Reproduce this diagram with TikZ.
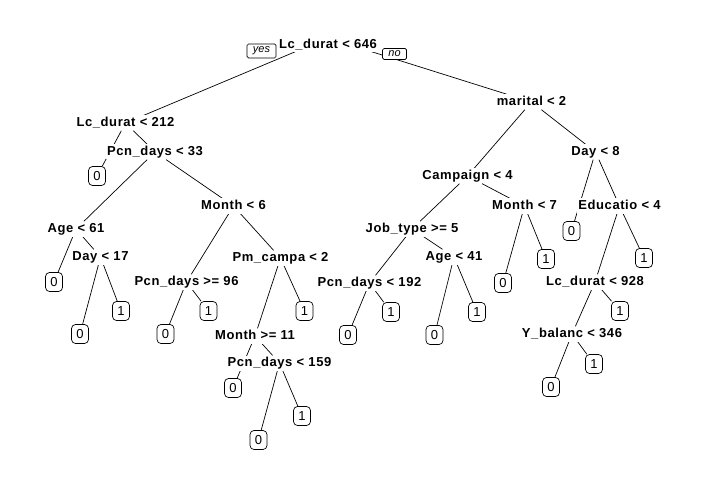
\documentclass[tikz,border=0pt]{standalone}
\usepackage{fontspec}
\setmainfont{Liberation Sans}
\newfontfamily\splitfont[LetterSpace=4.5]{Liberation Sans Bold}
\usetikzlibrary{backgrounds}
\tikzstyle{snode} = [fill=white, inner sep=1.5pt, text height=9.5pt, text depth=2.5pt, font=\splitfont\fontsize{13}{13}\selectfont]
\tikzstyle{lnode} = [draw, fill=white, rounded corners=4pt, minimum width=17pt, minimum height=19pt, inner sep=0pt, line width=0.7pt, font=\fontsize{13}{13}\selectfont]
\tikzstyle{tag} = [draw, fill=white, rounded corners=1.5pt, inner sep=0pt, line width=0.7pt, font=\itshape\fontsize{11}{11}\selectfont]
\tikzstyle{line} = [draw, line width=0.7pt]

\begin{document}
\begin{tikzpicture}[x=1pt, y=-1pt]
			\useasboundingbox (0,0) rectangle (708,486);
			% splits
			\node [snode] (root) at (328, 45) {Lc\_durat < 646};
			\coordinate (rootpt) at (328, 38);
			\node [tag, minimum width=29pt, minimum height=14pt] (yes) at (261.5, 51) {yes};
			\node [tag, minimum width=24pt, minimum height=11pt] (no) at (394.5, 54) {no};
			\node [snode] (dur212) at (125.5, 123) {Lc\_durat < 212};
			\node [snode] (pcn33) at (155, 152) {Pcn\_days < 33};
			\node [snode] (age61) at (76, 229) {Age < 61};
			\node [snode] (day17) at (100.5, 257) {Day < 17};
			\node [snode] (mon6) at (233.5, 206) {Month < 6};
			\node [snode] (pcn96) at (186.5, 282) {Pcn\_days >= 96};
			\node [snode] (pmc2) at (280.5, 258) {Pm\_campa < 2};
			\node [snode] (mon11) at (255, 336) {Month >= 11};
			\node [snode] (pcn159) at (279.5, 363) {Pcn\_days < 159};
			\node [snode] (marital) at (531.5, 102) {marital < 2};
			\node [snode] (camp4) at (467.5, 176) {Campaign < 4};
			\node [snode] (job5) at (412, 229) {Job\_type >= 5};
			\node [snode] (age41) at (454, 257) {Age < 41};
			\node [snode] (pcn192) at (369.5, 283) {Pcn\_days < 192};
			\node [snode] (mon7) at (524.5, 206) {Month < 7};
			\node [snode] (day8) at (595.5, 152) {Day < 8};
			\node [snode] (edu4) at (619.5, 206) {Educatio < 4};
			\node [snode] (dur928) at (595, 282) {Lc\_durat < 928};
			\node [snode] (bal346) at (572, 334) {Y\_balanc < 346};
			% leaves
			\node [lnode] (l1) at (97, 176) {0};
			\node [lnode] (l2) at (54, 282) {0};
			\node [lnode] (l3) at (80, 334) {0};
			\node [lnode] (l4) at (121, 311) {1};
			\node [lnode] (l5) at (165.5, 334) {0};
			\node [lnode] (l6) at (208.5, 311) {1};
			\node [lnode] (l7) at (233, 388) {0};
			\node [lnode] (l8) at (258.5, 440) {0};
			\node [lnode] (l9) at (302, 416) {1};
			\node [lnode] (l10) at (304.5, 311) {1};
			\node [lnode] (l11) at (348, 335) {0};
			\node [lnode] (l12) at (391, 312) {1};
			\node [lnode] (l13) at (434.5, 335) {0};
			\node [lnode] (l14) at (477, 312) {1};
			\node [lnode] (l15) at (503, 283) {0};
			\node [lnode] (l16) at (546, 259) {1};
			\node [lnode] (l17) at (571.5, 231) {0};
			\node [lnode] (l18) at (644, 258) {1};
			\node [lnode] (l19) at (620, 311) {1};
			\node [lnode] (l20) at (551, 387) {0};
			\node [lnode] (l21) at (594, 364) {1};

			\begin{pgfonlayer}{background}
			\path [line] (rootpt) -- (dur212);
			\path [line] (rootpt) -- (marital);
			\path [line] (dur212) -- (l1);
			\path [line] (dur212) -- (pcn33);
			\path [line] (pcn33) -- (age61);
			\path [line] (pcn33) -- (mon6);
			\path [line] (age61) -- (l2);
			\path [line] (age61) -- (day17);
			\path [line] (day17) -- (l3);
			\path [line] (day17) -- (l4);
			\path [line] (mon6) -- (pcn96);
			\path [line] (mon6) -- (pmc2);
			\path [line] (pcn96) -- (l5);
			\path [line] (pcn96) -- (l6);
			\path [line] (pmc2) -- (mon11);
			\path [line] (pmc2) -- (l10);
			\path [line] (mon11) -- (l7);
			\path [line] (mon11) -- (pcn159);
			\path [line] (pcn159) -- (l8);
			\path [line] (pcn159) -- (l9);
			\path [line] (marital) -- (camp4);
			\path [line] (marital) -- (day8);
			\path [line] (camp4) -- (job5);
			\path [line] (camp4) -- (mon7);
			\path [line] (job5) -- (pcn192);
			\path [line] (job5) -- (age41);
			\path [line] (pcn192) -- (l11);
			\path [line] (pcn192) -- (l12);
			\path [line] (age41) -- (l13);
			\path [line] (age41) -- (l14);
			\path [line] (mon7) -- (l15);
			\path [line] (mon7) -- (l16);
			\path [line] (day8) -- (l17);
			\path [line] (day8) -- (edu4);
			\path [line] (edu4) -- (dur928);
			\path [line] (edu4) -- (l18);
			\path [line] (dur928) -- (bal346);
			\path [line] (dur928) -- (l19);
			\path [line] (bal346) -- (l20);
			\path [line] (bal346) -- (l21);
			\end{pgfonlayer}
		\end{tikzpicture}
\end{document}
